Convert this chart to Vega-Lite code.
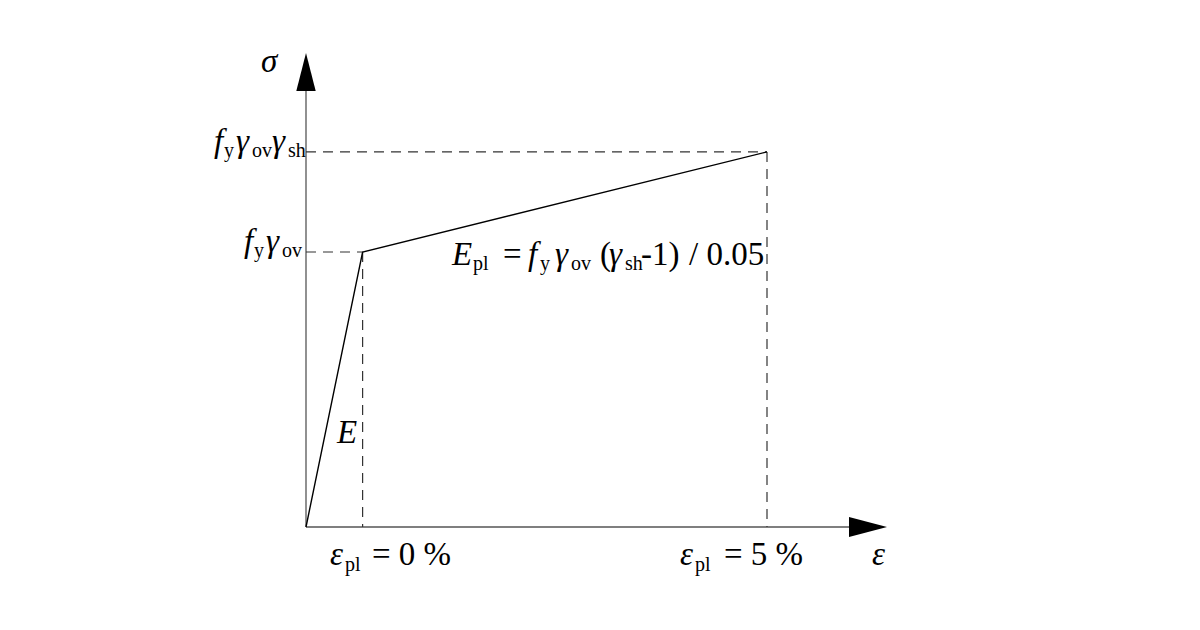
{
  "$schema": "https://vega.github.io/schema/vega-lite/v6.json",
  "width": 1200,
  "height": 630,
  "autosize": {"type": "fit", "contains": "padding"},
  "padding": 0,
  "background": "white",
  "view": {"stroke": null},
  "datasets": {
    "curve": [
      {"eps": 0, "sigma": 0},
      {"eps": 0.7, "sigma": 1},
      {"eps": 5.7, "sigma": 1.364}
    ],
    "dashed": [
      {"eps": 0, "sigma": 1, "eps2": 0.7, "sigma2": 1},
      {"eps": 0.7, "sigma": 1, "eps2": 0.7, "sigma2": 0},
      {"eps": 0, "sigma": 1.364, "eps2": 5.7, "sigma2": 1.364},
      {"eps": 5.7, "sigma": 1.364, "eps2": 5.7, "sigma2": 0}
    ],
    "axes": [
      {"eps": 0, "sigma": 0, "eps2": 7.0, "sigma2": 0},
      {"eps": 0, "sigma": 0, "eps2": 0, "sigma2": 1.6}
    ],
    "arrowX": [{"eps": 7.184, "sigma": 0}],
    "arrowY": [{"eps": 0, "sigma": 1.7236}],
    "italic": [
      {"eps": -0.5564, "sigma": 1.6545, "t": "σ"},
      {"eps": 6.9983, "sigma": -0.1382, "t": "ε"},
      {"eps": -1.1375, "sigma": 1.3636, "t": "f"},
      {"eps": -0.8655, "sigma": 1.3636, "t": "γ"},
      {"eps": -0.4204, "sigma": 1.3636, "t": "γ"},
      {"eps": -0.7666, "sigma": 1.0, "t": "f"},
      {"eps": -0.4946, "sigma": 1.0, "t": "γ"},
      {"eps": 0.3833, "sigma": 0.3055, "t": "E"},
      {"eps": 1.8052, "sigma": 0.9527, "t": "E"},
      {"eps": 2.7449, "sigma": 0.9527, "t": "f"},
      {"eps": 3.0788, "sigma": 0.9527, "t": "γ"},
      {"eps": 3.7464, "sigma": 0.9527, "t": "γ"},
      {"eps": 0.2967, "sigma": -0.1382, "t": "ε"},
      {"eps": 4.6243, "sigma": -0.1382, "t": "ε"}
    ],
    "upright": [
      {"eps": 2.4358, "sigma": 0.9527, "t": "="},
      {"eps": 3.6352, "sigma": 0.9527, "t": "("},
      {"eps": 4.1421, "sigma": 0.9527, "t": "-1)"},
      {"eps": 4.7356, "sigma": 0.9527, "t": "/ 0.05"},
      {"eps": 0.8161, "sigma": -0.1382, "t": "= 0 %"},
      {"eps": 5.1683, "sigma": -0.1382, "t": "= 5 %"}
    ],
    "sub": [
      {"eps": -1.0139, "sigma": 1.3455, "t": "y"},
      {"eps": -0.6677, "sigma": 1.3455, "t": "ov"},
      {"eps": -0.2226, "sigma": 1.3455, "t": "sh"},
      {"eps": -0.643, "sigma": 0.9818, "t": "y"},
      {"eps": -0.2967, "sigma": 0.9818, "t": "ov"},
      {"eps": 2.0649, "sigma": 0.9345, "t": "pl"},
      {"eps": 2.8933, "sigma": 0.9345, "t": "y"},
      {"eps": 3.2766, "sigma": 0.9345, "t": "ov"},
      {"eps": 3.9443, "sigma": 0.9345, "t": "sh"},
      {"eps": 0.4822, "sigma": -0.16, "t": "pl"},
      {"eps": 4.8098, "sigma": -0.16, "t": "pl"}
    ]
  },
  "encoding": {
    "x": {"field": "eps", "type": "quantitative", "axis": null,
          "scale": {"domain": [-3.7835, 11.0538], "nice": false, "zero": false}},
    "y": {"field": "sigma", "type": "quantitative", "axis": null,
          "scale": {"domain": [-0.37455, 1.91636], "nice": false, "zero": false}}
  },
  "layer": [
    {
      "data": {"name": "axes"},
      "mark": {"type": "rule", "color": "#555555", "strokeWidth": 1.3},
      "encoding": {"x2": {"field": "eps2"}, "y2": {"field": "sigma2"}}
    },
    {
      "data": {"name": "dashed"},
      "mark": {"type": "rule", "color": "#333333", "strokeWidth": 1.2, "strokeDash": [10, 7]},
      "encoding": {"x2": {"field": "eps2"}, "y2": {"field": "sigma2"}}
    },
    {
      "data": {"name": "curve"},
      "mark": {"type": "line", "color": "black", "strokeWidth": 1.4, "strokeJoin": "miter"},
      "encoding": {"order": {"field": "eps", "type": "quantitative"}}
    },
    {
      "data": {"name": "arrowX"},
      "mark": {"type": "point", "filled": true, "color": "black", "opacity": 1, "size": 1444,
               "shape": "M 0 0 L -2 -0.53 L -2 0.53 Z"}
    },
    {
      "data": {"name": "arrowY"},
      "mark": {"type": "point", "filled": true, "color": "black", "opacity": 1, "size": 1444,
               "shape": "M 0 0 L -0.51 2 L 0.51 2 Z"}
    },
    {
      "data": {"name": "italic"},
      "mark": {"type": "text", "font": "Liberation Serif", "color": "black", "fontSize": 33, "fontStyle": "italic", "align": "left", "baseline": "alphabetic"},
      "encoding": {"text": {"field": "t"}}
    },
    {
      "data": {"name": "upright"},
      "mark": {"type": "text", "font": "Liberation Serif", "color": "black", "fontSize": 33, "align": "left", "baseline": "alphabetic"},
      "encoding": {"text": {"field": "t"}}
    },
    {
      "data": {"name": "sub"},
      "mark": {"type": "text", "font": "Liberation Serif", "color": "black", "fontSize": 20, "align": "left", "baseline": "alphabetic"},
      "encoding": {"text": {"field": "t"}}
    }
  ]
}
